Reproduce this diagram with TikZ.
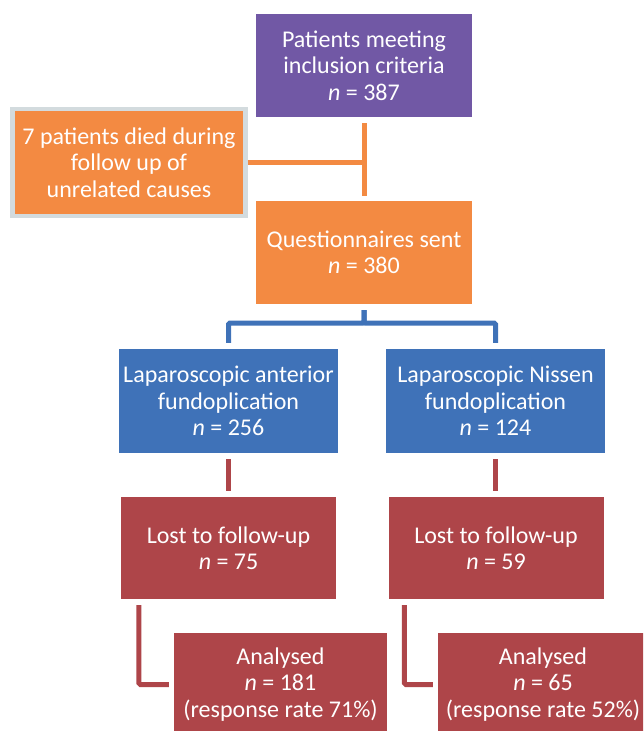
\documentclass[tikz,border=0pt]{standalone}
\usepackage{fontspec}
\setmainfont{Carlito}

\definecolor{flowpurple}{HTML}{7158A5}
\definecolor{floworange}{HTML}{F38A42}
\definecolor{flowblue}{HTML}{3F72B8}
\definecolor{flowred}{HTML}{AE4549}
\definecolor{glowgray}{HTML}{D3DBDE}

\begin{document}
\begin{tikzpicture}[
    x=1pt, y=-1pt,
    box/.style={rectangle, inner sep=0pt, text=white, align=center,
                minimum width=216pt, minimum height=103pt,
                font=\fontsize{24}{26.5}\selectfont},
    pbox/.style={box, fill=flowpurple},
    obox/.style={box, fill=floworange},
    bbox/.style={box, fill=flowblue, minimum width=219pt, minimum height=104pt},
    rbox/.style={box, fill=flowred, minimum width=215pt, minimum height=102pt},
    line/.style={line width=5pt, rounded corners=1.5pt},
    oline/.style={line, draw=floworange},
    bline/.style={line, draw=flowblue},
    rline/.style={line, draw=flowred},
  ]

  \clip (0,0) rectangle (643,731);

  \node[pbox] (incl) at (364,65.5) {Patients meeting\\inclusion criteria\\\textit{n} = 387};

  \node[obox, draw=glowgray, line width=4.5pt,
        minimum width=233pt, minimum height=107pt] (died) at (129,162.5)
        {7 patients died during\\follow up of\\unrelated causes};

  \node[obox] (sent) at (364,252.5) {Questionnaires sent\\\textit{n} = 380};

  \node[bbox] (lapA) at (228.5,401) {Laparoscopic anterior\\fundoplication\\\textit{n} = 256};
  \node[bbox] (lapN) at (495.5,401) {Laparoscopic Nissen\\fundoplication\\\textit{n} = 124};

  \node[rbox] (lostA) at (228.5,548) {Lost to follow-up\\\textit{n} = 75};
  \node[rbox] (lostN) at (496,548) {Lost to follow-up\\\textit{n} = 59};

  \node[rbox, minimum width=213pt, minimum height=103pt] (anaA) at (280.5,684.5)
        {Analysed\\\textit{n} = 181\\(response rate 71\%)};
  \node[rbox, minimum width=210pt, minimum height=103pt] (anaN) at (543,684.5)
        {Analysed\\\textit{n} = 65\\(response rate 52\%)};

  % trunk from inclusion to questionnaires, deaths joining from the side
  \draw[oline, shorten <=6pt, shorten >=5pt] (incl.south) -- (sent.north);
  \draw[oline] (died.east) -- (died.east -| incl.south);

  % split into the two operations
  \coordinate (split) at (364,323);
  \draw[bline, shorten <=6pt, shorten >=6pt] (sent.south) -- (split) -| (lapA.north);
  \draw[bline, shorten <=6pt, shorten >=6pt] (sent.south) -- (split) -| (lapN.north);

  % losses
  \draw[rline, shorten <=6pt, shorten >=6pt] (lapA.south) -- (lapA.south |- lostA.north);
  \draw[rline, shorten <=6pt, shorten >=6pt] (lapN.south) -- (lapN.south |- lostN.north);

  % analysed
  \draw[rline, shorten <=6pt, shorten >=5pt] ([xshift=18pt]lostA.south west) |- (anaA.west);
  \draw[rline, shorten <=6pt, shorten >=5pt] ([xshift=16pt]lostN.south west) |- (anaN.west);

\end{tikzpicture}
\end{document}
